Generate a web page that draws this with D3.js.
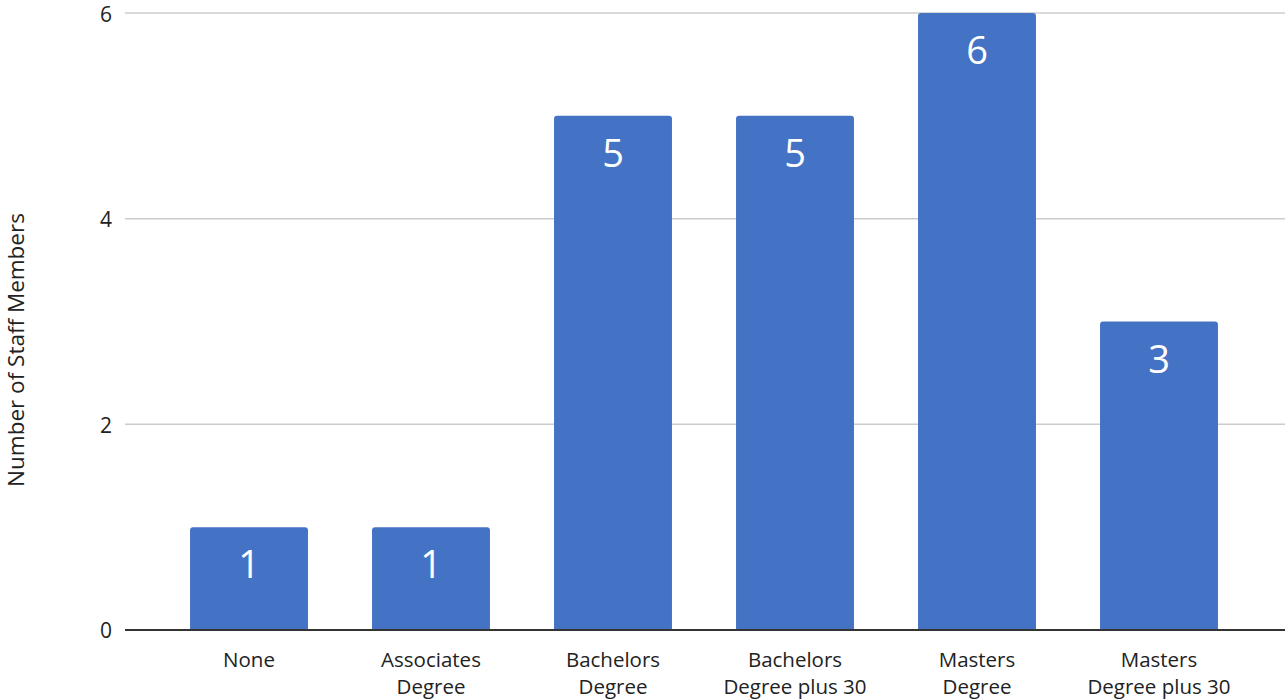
<!DOCTYPE html>
<html>
<head>
<meta charset="utf-8">
<script src="https://cdn.jsdelivr.net/npm/d3@7"></script>
<style>
  html, body { margin: 0; padding: 0; background: #fff; }
  svg { display: block; font-family: "Open Sans", sans-serif; }
</style>
</head>
<body>
<svg id="chart" width="1285" height="700"></svg>
<script>
const categories = [["None"], ["Associates", "Degree"], ["Bachelors", "Degree"], ["Bachelors", "Degree plus 30"], ["Masters", "Degree"], ["Masters", "Degree plus 30"]];
const values = [1, 1, 5, 5, 6, 3];
const yTicks = [0, 2, 4, 6];
const yTitle = "Number of Staff Members";

(function () {
const svg = d3.select("#chart");
const gridLeft = 125, gridRight = 1285;
const plotTop = 13, plotBottom = 630;

const x = d3.scaleBand()
  .domain(d3.range(categories.length))
  .range([158, 1250])
  .paddingInner(0.352)
  .paddingOuter(0.176);

const y = d3.scaleLinear().domain([0, 6]).range([plotBottom, plotTop]);

// gridlines
svg.append("g").selectAll("line")
  .data(yTicks.filter(t => t !== 0))
  .join("line")
  .attr("x1", gridLeft).attr("x2", gridRight)
  .attr("y1", d => y(d)).attr("y2", d => y(d))
  .attr("stroke", "#cccccc").attr("stroke-width", 1.5);

// y tick labels
svg.append("g").selectAll("text")
  .data(yTicks)
  .join("text")
  .attr("x", 112).attr("y", d => y(d) + (d === 6 ? 2 : 1))
  .attr("dy", "0.35em")
  .attr("text-anchor", "end")
  .attr("font-size", 21)
  .attr("fill", "#222")
  .text(d => d);

// bars with rounded top corners
const r = 3;
function barPath(x0, w, yTop, yBot) {
  return `M${x0},${yBot}V${yTop + r}Q${x0},${yTop} ${x0 + r},${yTop}H${x0 + w - r}Q${x0 + w},${yTop} ${x0 + w},${yTop + r}V${yBot}Z`;
}
svg.append("g").selectAll("path")
  .data(values)
  .join("path")
  .attr("d", (d, i) => barPath(x(i), x.bandwidth(), y(d), y(0)))
  .attr("fill", "#4472c4");

// value labels
svg.append("g").selectAll("text")
  .data(values)
  .join("text")
  .attr("x", (d, i) => x(i) + x.bandwidth() / 2)
  .attr("y", d => y(d) + 51)
  .attr("text-anchor", "middle")
  .attr("font-size", 38)
  .attr("fill", "#ffffff")
  .text(d => d);

// baseline
svg.append("line")
  .attr("x1", gridLeft).attr("x2", gridRight)
  .attr("y1", y(0)).attr("y2", y(0))
  .attr("stroke", "#333333").attr("stroke-width", 2);

// category labels
const cat = svg.append("g").selectAll("text")
  .data(categories)
  .join("text")
  .attr("x", (d, i) => x(i) + x.bandwidth() / 2)
  .attr("y", 667)
  .attr("text-anchor", "middle")
  .attr("font-size", 20.5)
  .attr("fill", "#222");
cat.selectAll("tspan")
  .data(d => d)
  .join("tspan")
  .attr("x", function () { return d3.select(this.parentNode).attr("x"); })
  .attr("dy", (d, j) => j === 0 ? 0 : 27)
  .text(d => d);

// y axis title
svg.append("text")
  .attr("transform", `translate(24, 350) rotate(-90)`)
  .attr("text-anchor", "middle")
  .attr("font-size", 22.5)
  .attr("fill", "#222")
  .text(yTitle);
})();
</script>
</body>
</html>
